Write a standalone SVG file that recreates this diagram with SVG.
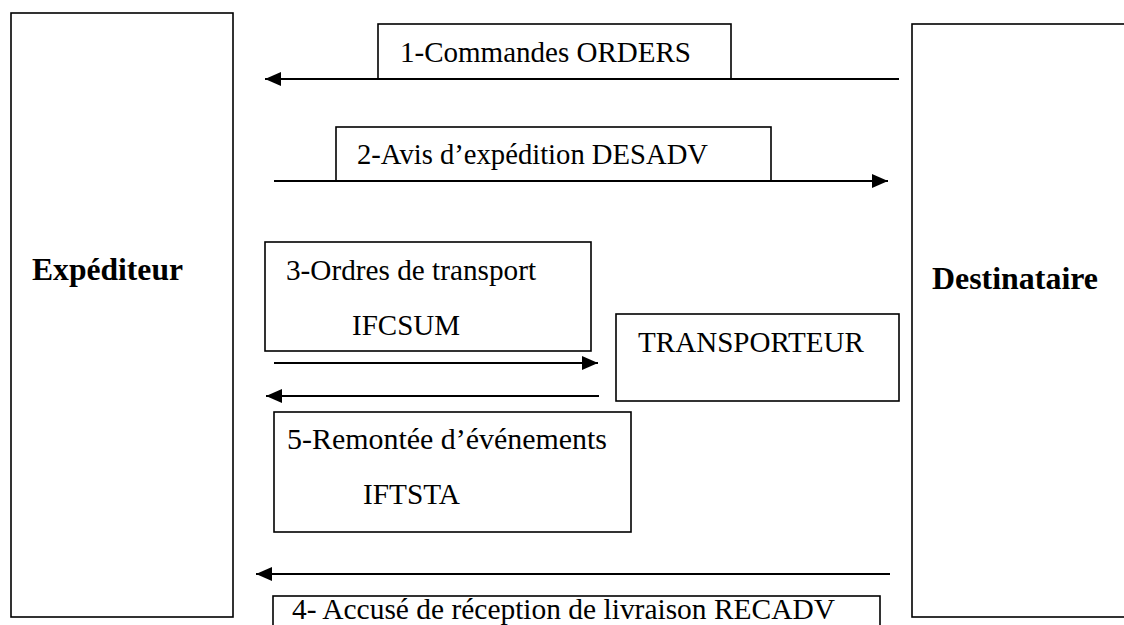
<svg xmlns="http://www.w3.org/2000/svg" width="1124" height="625" viewBox="0 0 1124 625">
<style>
.box{fill:#fff;stroke:#000;stroke-width:1.6}
.t{font-size:29px;fill:#000}
.b{font-size:32px;font-weight:bold;fill:#000}
.c{stroke:#000;stroke-width:2.2;fill:none;marker-end:url(#ah)}
</style>
<defs>
<marker id="ah" markerUnits="userSpaceOnUse" markerWidth="17" markerHeight="14" refX="16" refY="7" orient="auto">
<path d="M0,0 L16,7 L0,14 z" fill="#000"/>
</marker>
</defs>
<rect width="1124" height="625" fill="#fff"/>
<g font-family="Liberation Serif">
<g id="expediteur">
<rect class="box" x="11" y="13" width="222" height="604"/>
<text class="b" x="32" y="280" textLength="151" lengthAdjust="spacingAndGlyphs">Expéditeur</text>
</g>
<g id="destinataire">
<rect class="box" x="912" y="24" width="240" height="593"/>
<text class="b" x="932" y="289" textLength="166" lengthAdjust="spacingAndGlyphs">Destinataire</text>
</g>
<g id="msg1">
<rect class="box" x="378" y="24" width="353" height="55"/>
<text class="t" x="400" y="62" textLength="291" lengthAdjust="spacingAndGlyphs">1-Commandes ORDERS</text>
</g>
<g id="msg2">
<rect class="box" x="336" y="127" width="435" height="54"/>
<text class="t" x="357" y="164" textLength="351" lengthAdjust="spacingAndGlyphs">2-Avis d’expédition DESADV</text>
</g>
<g id="msg3">
<rect class="box" x="265" y="242" width="326" height="109"/>
<text class="t" x="286" y="280" textLength="250" lengthAdjust="spacingAndGlyphs">3-Ordres de transport</text>
<text class="t" x="352" y="335" textLength="108" lengthAdjust="spacingAndGlyphs">IFCSUM</text>
</g>
<g id="transporteur">
<rect class="box" x="616" y="314" width="283" height="87"/>
<text class="t" x="638" y="352" textLength="226" lengthAdjust="spacingAndGlyphs">TRANSPORTEUR</text>
</g>
<g id="msg5">
<rect class="box" x="274" y="412" width="357" height="120"/>
<text class="t" x="287" y="449" textLength="320" lengthAdjust="spacingAndGlyphs">5-Remontée d’événements</text>
<text class="t" x="363" y="504" textLength="97" lengthAdjust="spacingAndGlyphs">IFTSTA</text>
</g>
<g id="msg4">
<rect class="box" x="273" y="596" width="607" height="40"/>
<text class="t" x="292" y="619" textLength="543" lengthAdjust="spacingAndGlyphs">4- Accusé de réception de livraison RECADV</text>
</g>
</g>
<g id="connectors">
<line class="c" x1="899" y1="79" x2="265" y2="79"/>
<line class="c" x1="274" y1="181" x2="888" y2="181"/>
<line class="c" x1="274" y1="363" x2="598" y2="363"/>
<line class="c" x1="599" y1="396" x2="266" y2="396"/>
<line class="c" x1="890" y1="574" x2="256" y2="574"/>
</g>
</svg>
